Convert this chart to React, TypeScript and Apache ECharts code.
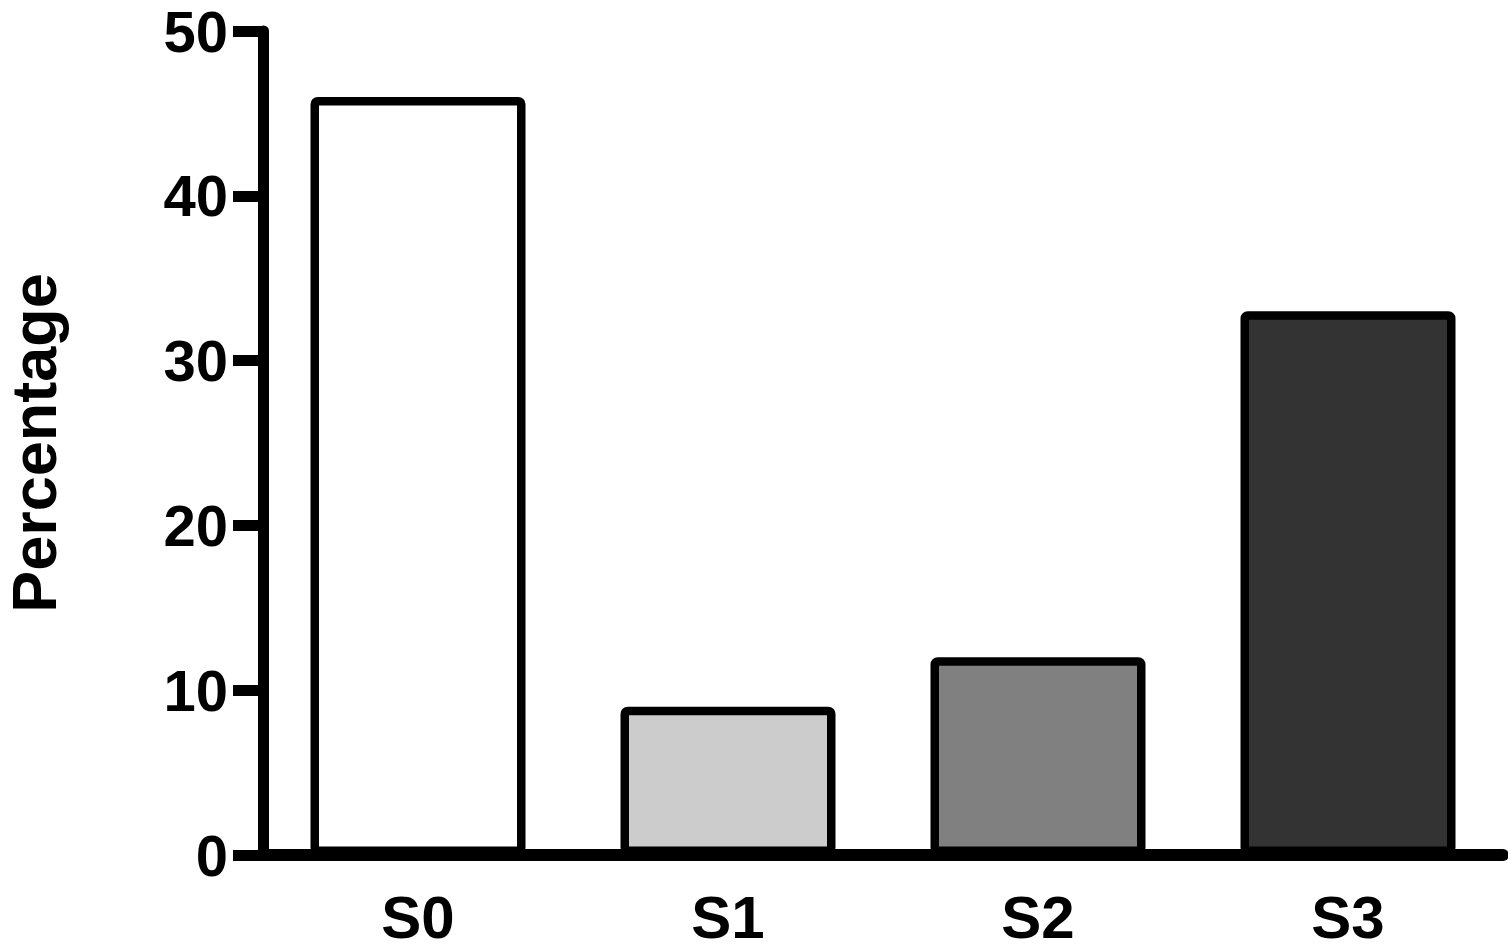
import React, { useEffect, useRef } from "react";
import * as echarts from "echarts";

const categories = ["S0", "S1", "S2", "S3"];
const values = [46, 9, 12, 33];
const barColors = ["#ffffff", "#cccccc", "#808080", "#333333"];
const yTicks = { min: 0, max: 50, interval: 10 };
const yAxisTitle = "Percentage";

const FONT = "'Liberation Sans', Arial, Helvetica, sans-serif";

export default function App() {
  const ref = useRef<HTMLDivElement>(null);
  useEffect(() => {
    if (!ref.current) return;
    const chart = echarts.init(ref.current, null, { renderer: "svg" });
    chart.setOption({
      animation: false,
      backgroundColor: "#ffffff",
      grid: {
        left: 263,
        right: 5,
        top: 31,
        bottom: 96,
        containLabel: false,
        outerBoundsMode: "none",
      },
      xAxis: {
        type: "category",
        data: categories,
        axisLine: { lineStyle: { color: "#000", width: 12 } },
        axisTick: {
          alignWithLabel: true,
          length: 30,
          lineStyle: { color: "#000", width: 11 },
        },
        axisLabel: {
          color: "#000",
          fontFamily: FONT,
          fontWeight: "bold",
          fontSize: 60,
          margin: 32,
        },
      },
      yAxis: {
        type: "value",
        min: yTicks.min,
        max: yTicks.max,
        interval: yTicks.interval,
        name: yAxisTitle,
        nameLocation: "middle",
        nameRotate: 90,
        nameGap: 198,
        nameTextStyle: {
          color: "#000",
          fontFamily: FONT,
          fontWeight: "bold",
          fontSize: 63,
        },
        splitLine: { show: false },
        axisLine: { show: true, lineStyle: { color: "#000", width: 11 } },
        axisTick: { show: true, length: 30, lineStyle: { color: "#000", width: 11 } },
        axisLabel: {
          color: "#000",
          fontFamily: FONT,
          fontWeight: "bold",
          fontSize: 58,
          lineHeight: 54,
          margin: 35,
        },
      },
      series: [
        {
          type: "bar",
          barWidth: 215,
          data: values.map((v, i) => ({
            value: v,
            itemStyle: {
              color: barColors[i],
              borderColor: "#000",
              borderWidth: 8.5,
              borderRadius: 3,
            },
          })),
        },
      ],
    });
    return () => chart.dispose();
  }, []);
  return <div ref={ref} style={{ width: 1508, height: 951, position: "absolute", left: 0, top: 0 }} />;
}
